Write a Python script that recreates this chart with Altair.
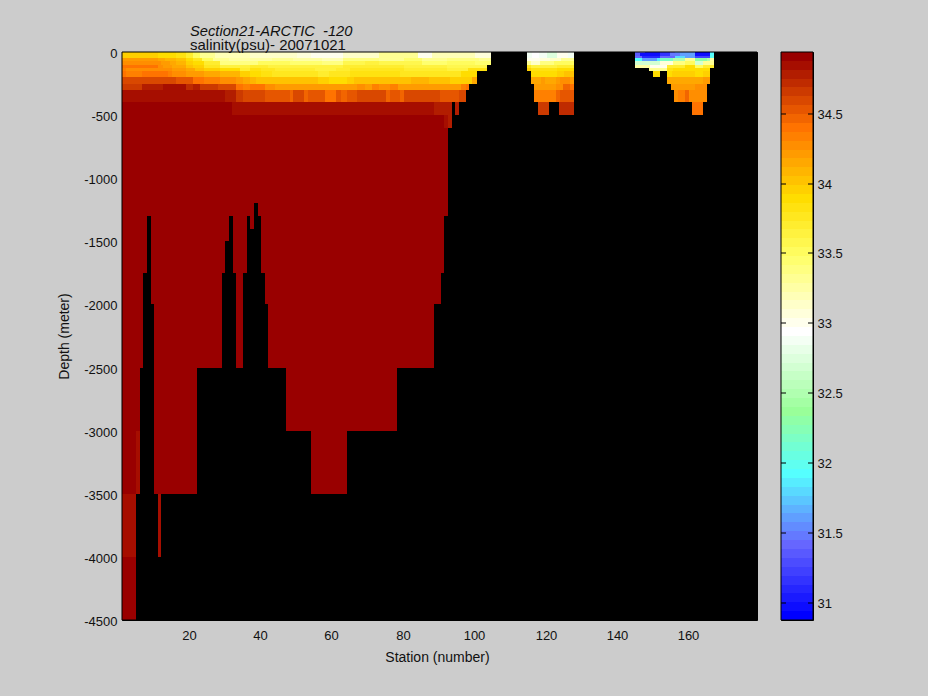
import numpy as np
import pandas as pd
import altair as alt

BG = "#cccccc"
SAL_TOP, SAL_BOT = 34.94, 30.88
N_COL = 64

# colormap anchors: band index (0 = top of the colour bar) and RGB
cm_idx = [0, 8, 16, 22.5, 31, 40, 47, 55, 63]
cm_r = [0x99, 0xff, 0xff, 0xff, 0xff, 0x99, 0x55, 0x66, 0x00]
cm_g = [0x00, 0x73, 0xdd, 0xff, 0xff, 0xff, 0xff, 0x66, 0x00]
cm_b = [0x00, 0x00, 0x00, 0x66, 0xff, 0x99, 0xff, 0xff, 0xff]

# segments: (first station edge, last station edge, salinity), one list per depth layer
main_0_50 = [(1,5,33.98),(5,7,33.94),(7,11,33.96),(11,16,33.92),(16,19,33.83),(19,21,33.72),(21,23,33.5),(23,27,33.33),(27,37,33.2),(37,43,33.15),(43,50,33.12),(50,54,33.05),(54,63,32.98),(63,73,33.15),(73,84,33.3),(84,88,33.0),(88,100,33.2),(100,104.4,33.05)]
main_50_75 = [(1,11,34.21),(11,13,34.16),(13,16,34.1),(16,19,34.02),(19,21,33.92),(21,23.5,33.75),(23.5,26.5,33.5),(26.5,31,33.33),(31,43,33.27),(43,49,33.3),(49,57,33.27),(57,63,33.2),(63,73,33.4),(73,80,33.33),(80,85,33.45),(85,92,33.33),(92,101,33.4),(101,104.4,33.3)]
main_75_100 = [(1,12,34.26),(12,14.5,34.24),(14.5,16,34.13),(16,19,34.07),(19,21,33.98),(21,24,33.88),(24,28.5,33.7),(28.5,39,33.4),(39,44,33.5),(44,48,33.53),(48,57,33.45),(57,63,33.4),(63,69,33.6),(69,73,33.62),(73,80,33.55),(80,85,33.6),(85,92,33.45),(92,100,33.5),(100,104.4,33.45)]
main_100_125 = [(1,11,34.43),(11,12.6,34.3),(12.6,15,34.24),(15,19,34.16),(19,21,34.02),(21,24,33.94),(24,28.5,33.77),(28.5,37,33.62),(37,42,33.7),(42,49,33.65),(49,63,33.62),(63,73,33.72),(73,80,33.7),(80,92,33.62),(92,100,33.58),(100,103.3,33.6)]
main_125_150 = [(1,2,34.36),(2,12,34.3),(12,15,34.26),(15,19,34.18),(19,21.5,34.13),(21.5,24,34.02),(24,28.5,33.96),(28.5,34,33.88),(34,37,33.7),(37,40,33.8),(40,44,33.77),(44,55,33.7),(55,61,33.66),(61,65,33.7),(65,73,33.77),(73,80,33.75),(80,92,33.68),(92,98,33.65),(98,103.3,33.82)]
main_150_200 = [(1,2,34.43),(2,6.5,34.36),(6.5,14,34.43),(14,15,34.36),(15,19,34.28),(19,21,34.2),(21,24,34.18),(24,28.5,34.13),(28.5,34,34.07),(34,37,33.96),(37,40,33.88),(40,43,33.82),(43,56,33.78),(56,59,33.72),(59,65,33.75),(65,73,33.8),(73,79,33.82),(79,96,33.78),(96,100.5,33.88)]
main_200_250 = [(1,16,34.59),(16,21,34.5),(21,24,34.43),(24,28.5,34.36),(28.5,33,34.26),(33,35,34.2),(35,37,34.13),(37,38.5,34.07),(38.5,43,34.04),(43,56,34.02),(56,59,33.96),(59,64,33.9),(64,66,33.96),(66,73,34.0),(73,79,34.04),(79,82,34.02),(82,87,34.06),(87,93,34.02),(93,99,33.98),(99,100.5,34.15)]
main_250_300 = [(1,6.5,34.68),(6.5,12.6,34.75),(12.6,19,34.82),(19,21,34.72),(21,23,34.75),(23,28,34.65),(28,33,34.59),(33,35,34.43),(35,37,34.36),(37,41,34.4),(41,44,34.3),(44,67,34.22),(67,69,34.3),(69,71,34.24),(71,73,34.33),(73,76,34.28),(76,78.5,34.34),(78.5,96,34.24),(96,97.4,34.34),(97.4,98.3,34.42)]
main_300_400 = [(1,30,34.85),(30,33,34.75),(33,35,34.65),(35,41,34.59),(41,48,34.54),(48,49,34.45),(49,52,34.59),(52,53,34.45),(53,54,34.54),(54,58,34.5),(58,61,34.38),(61,62.5,34.54),(62.5,64,34.45),(64,67,34.5),(67,75,34.59),(75,76,34.46),(76,79,34.54),(79,80,34.46),(80,90,34.59),(90,95.5,34.5),(95.5,97.4,34.59)]
main_400_500 = [(1,31.8,34.91),(31.8,88.4,34.85),(88.4,93.5,34.76),(94.3,95.5,34.8)]
main_500_600 = [(1,91.2,34.91),(91.2,92.4,34.85),(92.4,93.5,34.78)]

mid_0_10 = [(114.6,116,32.85),(116,118,32.95),(118,120,32.9),(120,123,32.78),(123,126,32.98),(126,127.7,32.85)]
mid_50_75 = [(114.6,118.2,33.0),(118.2,121,33.1),(121,124,33.15),(124,127.7,33.33)]
mid_75_100 = [(114.6,115.7,33.33),(115.7,118.2,33.15),(118.2,122,33.4),(122,127.7,33.5)]
mid_100_125 = [(114.6,115.7,33.77),(115.7,123,33.62),(123,127.7,33.72)]
mid_125_150 = [(114.6,115.7,33.95),(115.7,123,33.8),(123,127.7,33.92)]
mid_150_200 = [(115.7,120.5,33.88),(120.5,123,33.9),(123,125,33.98),(125,127.7,34.05)]
mid_200_250 = [(115.7,118.5,34.13),(118.5,119.6,34.22),(119.6,122.7,34.13),(122.7,123.8,34.22),(123.8,126.6,34.28),(126.6,127.7,34.22)]
mid_250_300 = [(116.5,122.7,34.22),(122.7,124.7,34.3),(124.7,126.6,34.46),(126.6,127.7,34.42)]
mid_300_400 = [(116.5,122.7,34.36),(122.7,123.8,34.46),(123.8,127.7,34.54)]
mid_400_500 = [(117.7,120.7,34.68),(123.5,127.7,34.73)]

east_0_10 = [(144.8,147.6,31.33),(147.6,151.8,31.07),(151.8,154.6,31.17),(154.6,156,31.42),(156,161.6,31.6),(161.6,165.8,30.91),(165.8,166.9,31.86)]
east_10_30 = [(144.8,146.2,31.33),(146.2,151.8,31.0),(151.8,154.6,31.17),(154.6,157.4,31.5),(157.4,161.6,31.6),(161.6,165.8,31.0),(165.8,166.9,31.9)]
east_30_50 = [(144.8,146.7,31.45),(146.7,151.8,31.1),(151.8,156,31.42),(156,158.8,31.8),(158.8,161.6,31.64),(161.6,165.8,31.25),(165.8,166.9,31.99)]
east_50_75 = [(144.8,146.7,31.93),(146.7,150.9,31.64),(150.9,151.8,31.86),(151.8,155.5,32.15),(155.5,158.8,32.47),(158.8,161.6,33.33),(161.6,164.9,32.28),(164.9,165.8,32.47),(165.8,166.9,33.27)]
east_75_100 = [(144.8,151.8,32.66),(151.8,155.5,33.1),(155.5,158.8,33.4),(158.8,161.6,33.5),(161.6,164,32.7),(164,166.9,33.33)]
east_100_125 = [(144.8,149,33.27),(149,153.7,33.03),(153.7,158.8,33.72),(158.8,161.6,33.88),(161.6,164,33.5),(164,166.9,33.72)]
east_125_150 = [(148.7,153.7,33.33),(153.7,155.5,33.8),(155.5,161.6,33.9),(161.6,165.8,33.88)]
east_150_200 = [(149.8,151.8,33.88),(153.7,155.1,33.88),(155.1,161.6,33.96),(161.6,164,33.9),(164,165.8,33.96)]
east_200_250 = [(153.7,164,34.15),(164,165.8,34.21)]
east_250_300 = [(154.9,161.6,34.21),(161.6,164.9,34.28)]
east_300_400 = [(155.7,156.9,34.3),(156.9,158.8,34.34),(158.8,159.9,34.46),(159.9,164.9,34.3)]
east_400_500 = [(160.8,162.7,34.38),(162.7,163.9,34.42)]

# deep water: station edges and the sea-floor depth of each stretch
deep_edges = [1,5,6,7,8,9,10,11,12,22,29,30,31,32,33,35,36,37,38,39,40,41,42,47,54,64,78,88.5,90.4,91.3,92.4]
deep_floor = [4500,3500,2500,1750,1300,2000,3500,4000,3500,2500,1750,1500,1300,1750,2500,1750,1300,1400,1200,1300,1750,2000,2500,3000,3500,3000,2500,2000,1750,1300]
DEEP_SAL = 34.91
# slightly fresher deep patches: (edge, edge, top, bottom, salinity)
deep_patches = [(5,6,3000,3500,34.85),(1,5,3500,4000,34.85),(11,12,3500,4000,34.85)]

XTICKS = [20,40,60,80,100,120,140,160]
YTICKS = [0,-500,-1000,-1500,-2000,-2500,-3000,-3500,-4000,-4500]
CB_TICKS = [31,31.5,32,32.5,33,33.5,34,34.5]

layers = [
    (0,10,main_0_50+mid_0_10+east_0_10),
    (10,30,main_0_50+mid_0_10+east_10_30),
    (30,50,main_0_50+mid_0_10+east_30_50),
    (50,75,main_50_75+mid_50_75+east_50_75),
    (75,100,main_75_100+mid_75_100+east_75_100),
    (100,125,main_100_125+mid_100_125+east_100_125),
    (125,150,main_125_150+mid_125_150+east_125_150),
    (150,200,main_150_200+mid_150_200+east_150_200),
    (200,250,main_200_250+mid_200_250+east_200_250),
    (250,300,main_250_300+mid_250_300+east_250_300),
    (300,400,main_300_400+mid_300_400+east_300_400),
    (400,500,main_400_500+mid_400_500+east_400_500),
    (500,600,main_500_600),
]

recs = []
for top, bot, segs in layers:
    for a, b, s in segs:
        recs.append(dict(x=a, x2=b, y=-top, y2=-bot, s=s))
for i, floor in enumerate(deep_floor):
    recs.append(dict(x=deep_edges[i], x2=deep_edges[i+1], y=-600, y2=-floor, s=DEEP_SAL))
for a, b, t, f, s in deep_patches:
    recs.append(dict(x=a, x2=b, y=-t, y2=-f, s=s))
df = pd.DataFrame(recs)

def to_hex(i):
    r = int(round(np.interp(i, cm_idx, cm_r)))
    g = int(round(np.interp(i, cm_idx, cm_g)))
    b = int(round(np.interp(i, cm_idx, cm_b)))
    return "#%02x%02x%02x" % (r, g, b)

colors = [to_hex(i) for i in range(N_COL - 1, -1, -1)]  # low to high
step = (SAL_TOP - SAL_BOT) / N_COL
color_scale = alt.Scale(type="quantize", domain=[SAL_BOT, SAL_TOP], range=colors)

FONT = "Liberation Sans"
INK = "#111111"
PW, PH, CW = 635, 568, 32
x_axis = alt.Axis(values=XTICKS, title="Station (number)", grid=False, tickSize=0, domain=False,
                  labelFontSize=13, titleFontSize=14, titleFontWeight="normal", labelColor=INK,
                  titleColor=INK, labelPadding=9, titlePadding=8, labelFont=FONT, titleFont=FONT,
                  labelOffset=-1, titleX=315)
y_axis = alt.Axis(values=YTICKS, title="Depth (meter)", grid=False, tickSize=0, domain=False,
                  labelExpr="'' + datum.value", labelOffset=1,
                  labelFontSize=13, titleFontSize=14, titleFontWeight="normal", labelColor=INK,
                  titleColor=INK, labelPadding=5, titlePadding=12, labelFont=FONT, titleFont=FONT)

cells = alt.Chart(df).mark_rect(strokeWidth=0).encode(
    x=alt.X("x:Q", scale=alt.Scale(domain=[1, 179], nice=False, zero=False, round=True), axis=x_axis),
    x2="x2:Q",
    y=alt.Y("y:Q", scale=alt.Scale(domain=[-4500, 0], nice=False, zero=False, round=True), axis=y_axis),
    y2="y2:Q",
    color=alt.Color("s:Q", scale=color_scale, legend=None),
)
frame_df = pd.DataFrame({"a": [0]})
main_frame = alt.Chart(frame_df).mark_rect(filled=False, color="black", strokeWidth=1).encode(
    x=alt.value(0), x2=alt.value(PW), y=alt.value(0), y2=alt.value(PH))
main = alt.layer(cells, main_frame).properties(
    width=PW, height=PH,
    title=alt.TitleParams(
        text="Section21-ARCTIC \u00a0-120", subtitle="salinity(psu)- 20071021",
        anchor="start", frame="group", dx=68, offset=-6, font=FONT, fontSize=14.7, fontStyle="italic",
        fontWeight="normal", color=INK, subtitleFont=FONT, subtitleFontSize=15,
        subtitleColor=INK, subtitlePadding=-1, subtitleFontWeight="normal",
    ),
)

cb_df = pd.DataFrame({
    "lo": [SAL_BOT + i * step for i in range(N_COL)],
    "hi": [SAL_BOT + (i + 1) * step for i in range(N_COL)],
})
cb_df["s"] = (cb_df.lo + cb_df.hi) / 2
cb_axis = alt.Axis(values=CB_TICKS, orient="right", title=None, grid=False, tickSize=0, domain=False,
                   labelFontSize=13, labelColor=INK, labelPadding=4, labelFont=FONT,
                   labelExpr="'' + datum.value")
cb_y = alt.Scale(domain=[SAL_BOT, SAL_TOP], nice=False, zero=False, round=True)
bands = alt.Chart(cb_df).mark_rect(strokeWidth=0).encode(
    x=alt.value(0), x2=alt.value(CW),
    y=alt.Y("lo:Q", scale=cb_y, axis=cb_axis),
    y2="hi:Q",
    color=alt.Color("s:Q", scale=color_scale, legend=None),
)
tick_df = pd.DataFrame({"v": CB_TICKS})
tick_l = alt.Chart(tick_df).mark_rule(color="black", strokeWidth=1).encode(
    x=alt.value(0), x2=alt.value(5), y=alt.Y("v:Q", scale=cb_y, axis=cb_axis))
tick_r = alt.Chart(tick_df).mark_rule(color="black", strokeWidth=1).encode(
    x=alt.value(CW - 5), x2=alt.value(CW), y=alt.Y("v:Q", scale=cb_y, axis=cb_axis))
cb_frame = alt.Chart(frame_df).mark_rect(filled=False, color="black", strokeWidth=1).encode(
    x=alt.value(0), x2=alt.value(CW), y=alt.value(0), y2=alt.value(PH))
bar = alt.layer(bands, tick_l, tick_r, cb_frame).properties(width=CW, height=PH)

chart = alt.hconcat(main, bar, spacing=22, background=BG,
                    padding={"left": 49, "top": 15, "right": 0, "bottom": 0}
).resolve_scale(color="independent").configure_view(
    fill="black", stroke="black", strokeWidth=1
)

chart.save("out.html", embed_options={"renderer": "svg", "actions": False,
                                      "defaultStyle": "html,body{background:#cccccc}"})
